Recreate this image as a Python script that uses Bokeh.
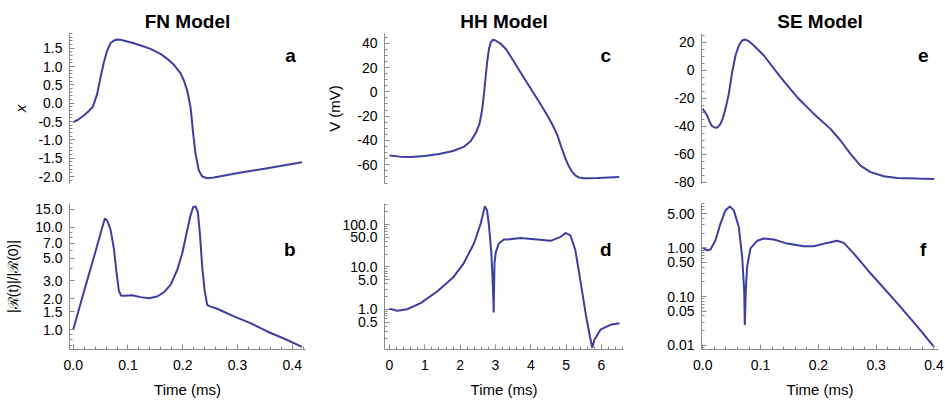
import math
from bokeh.plotting import figure
from bokeh.models import Range1d, FixedTicker, PrintfTickFormatter, Label
from bokeh.layouts import row, column
from bokeh.embed import file_html
from bokeh.resources import INLINE

FONT = "Liberation Sans"
CURVE = "#3e3ea0"
AXIS = "#8a8a8a"

# ---------------- FN model ----------------
fn_t = [0.0, 0.01, 0.02, 0.03, 0.035, 0.0377, 0.0438, 0.0499, 0.056, 0.0621,
        0.0682, 0.0743, 0.0804, 0.0865, 0.1108, 0.126, 0.1412, 0.1595, 0.1717,
        0.1839, 0.196, 0.2021, 0.2082, 0.2143, 0.2192, 0.2234, 0.2295, 0.2356,
        0.2447, 0.2569, 0.2935, 0.3543, 0.418]
fn_x = [-0.52, -0.44, -0.33, -0.19, -0.11, -0.02, 0.255, 0.709, 1.118, 1.436,
        1.636, 1.709, 1.736, 1.727, 1.636, 1.56, 1.482, 1.345, 1.209,
        1.045, 0.818, 0.618, 0.345, -0.109, -0.836, -1.382, -1.836, -2.0,
        -2.045, -2.027, -1.927, -1.773, -1.609]

fn_rt = [0.0, 0.0134, 0.0256, 0.0377, 0.0469, 0.053, 0.0578, 0.0621, 0.0682,
         0.0743, 0.0791, 0.0834, 0.0877, 0.0956, 0.1078, 0.123, 0.1382, 0.1534,
         0.1656, 0.1778, 0.19, 0.1991, 0.2082, 0.2143, 0.2192, 0.2234, 0.2277,
         0.2314, 0.2356, 0.2399, 0.2447, 0.2496, 0.263, 0.2935, 0.3239, 0.3543,
         0.3848, 0.418]
fn_r = [1.0, 1.8, 3.05, 5.1, 7.6, 10.0, 12.2, 11.6, 9.5,
        6.2, 3.6, 2.4, 2.14, 2.14, 2.17, 2.08, 2.03, 2.11,
        2.31, 2.74, 3.83, 5.56, 9.37, 13.1, 15.8, 16.0, 14.1,
        8.7, 4.13, 2.45, 1.75, 1.69, 1.60, 1.35, 1.16, 0.96,
        0.82, 0.68]

# ---------------- HH model ----------------
hh_t = [0.0, 0.3, 0.6, 1.0, 1.4, 1.8, 2.1, 2.3, 2.45, 2.55, 2.62, 2.67, 2.72,
        2.77, 2.82, 2.87, 2.93, 3.0, 3.14, 3.3, 3.52, 3.75, 4.0, 4.25, 4.46,
        4.62, 4.75, 4.87, 4.98, 5.08, 5.17, 5.27, 5.36, 5.5, 5.9, 6.5]
hh_v = [-52.3, -53.3, -53.6, -52.8, -51.2, -48.7, -45.3, -40.5, -33.5, -26.0,
        -15.0, -3.0, 12.0, 26.0, 36.0, 41.0, 42.8, 42.2, 39.7, 35.0, 25.0,
        14.0, 2.5, -9.0, -19.0, -27.5, -35.6, -46.0, -55.0, -61.5, -65.8,
        -69.0, -70.4, -71.0, -70.8, -70.1]

hh_rt = [0.0, 0.22, 0.5, 0.88, 1.35, 1.82, 2.1, 2.39, 2.58, 2.7, 2.76, 2.81,
         2.877, 2.915, 2.94, 2.948, 2.958, 2.972, 3.01, 3.094, 3.236, 3.33,
         3.71, 4.18, 4.56, 4.84, 4.98, 5.12, 5.26, 5.4, 5.55, 5.67, 5.74, 5.8,
         5.97, 6.25, 6.51]
hh_r = [1.03, 0.92, 1.0, 1.40, 2.63, 5.9, 12.2, 35.8, 105.0, 274.0, 217.0, 105.0,
        25.0, 5.9, 1.67, 0.84, 2.88, 12.2, 22.8, 35.8, 44.5, 44.5,
        48.6, 44.5, 41.4, 51.3, 63.7, 56.0, 25.0, 4.9, 0.81, 0.23, 0.123, 0.19,
        0.33, 0.43, 0.47]

# ---------------- SE model ----------------
se_t = [0.0, 0.0075, 0.0121, 0.0162, 0.0219, 0.026, 0.0306, 0.0352, 0.0392,
        0.045, 0.0508, 0.0566, 0.0623, 0.0681, 0.0727, 0.0796, 0.0883, 0.1056,
        0.1344, 0.1633, 0.1922, 0.221, 0.2383, 0.2556, 0.2729, 0.2903, 0.3133,
        0.3364, 0.371, 0.4005]
se_v = [-27.6, -32.4, -37.1, -40.0, -41.2, -40.7, -38.3, -33.6, -27.6,
        -16.9, -1.4, 10.5, 17.6, 21.2, 21.9, 20.7, 17.6, 10.5,
        -5.0, -19.3, -31.2, -41.9, -50.2, -59.7, -68.1, -72.8, -75.7,
        -76.9, -77.3, -77.6]

se_rt = [0.0, 0.0075, 0.0133, 0.0219, 0.0306, 0.0392, 0.0467, 0.0537, 0.0623,
         0.0681, 0.0716, 0.0727, 0.0744, 0.0767, 0.0825, 0.0941, 0.1056, 0.1229,
         0.146, 0.1748, 0.1922, 0.2152, 0.2325, 0.2441, 0.2614, 0.2902, 0.3364,
         0.371, 0.4005]
se_r = [1.0, 0.89, 0.92, 1.43, 3.13, 5.85, 7.06, 5.85, 2.67,
        0.65, 0.136, 0.026, 0.136, 0.41, 0.97, 1.39, 1.55, 1.48,
        1.22, 1.08, 1.08, 1.26, 1.39, 1.26, 0.76, 0.30, 0.073,
        0.0244, 0.0092]

# ---------------- tick positions ----------------
fn_x_ticks = [-2.0, -1.5, -1.0, -0.5, 0.0, 0.5, 1.0, 1.5]
fn_r_ticks = [1.0, 1.5, 2.0, 3.0, 5.0, 7.0, 10.0, 15.0]
hh_v_ticks = [-60, -40, -20, 0, 20, 40]
hh_r_ticks = [0.5, 1.0, 5.0, 10.0, 50.0, 100.0]
se_v_ticks = [-80, -60, -40, -20, 0, 20]
se_r_ticks = [0.01, 0.05, 0.1, 0.5, 1.0, 5.0]
short_time_ticks = [0.0, 0.1, 0.2, 0.3, 0.4]
hh_time_ticks = [0, 1, 2, 3, 4, 5, 6]


def frange(a, b, step):
    out, v = [], a
    while v <= b + 1e-9:
        out.append(round(v, 6))
        v += step
    return out


def log_minors(lo, hi, majors):
    out = []
    e = math.floor(math.log10(lo))
    while 10 ** e <= hi:
        for m in range(1, 10):
            v = m * 10 ** e
            if lo <= v <= hi and not any(abs(v - t) < 1e-9 * max(1, t) for t in majors):
                out.append(v)
        e += 1
    return out


def style_axis(ax, fmt):
    ax.axis_line_color = AXIS
    ax.major_tick_line_color = AXIS
    ax.minor_tick_line_color = AXIS
    ax.major_tick_in = 5
    ax.major_tick_out = 0
    ax.minor_tick_in = 3
    ax.minor_tick_out = 0
    ax.major_label_text_font = FONT
    ax.major_label_text_font_size = "14px"
    ax.major_label_text_color = "black"
    ax.axis_label_text_font = FONT
    ax.axis_label_text_font_size = "15px"
    ax.axis_label_text_font_style = "normal"
    ax.axis_label_text_color = "black"
    ax.formatter = PrintfTickFormatter(format=fmt)


def panel(width, borders, xr, yr, ylog, top, title=None):
    bl, br = borders
    height = 195 if top else 205
    bt, bb = (33, 12) if top else (8, 50)
    p = figure(width=width, height=height,
               x_range=Range1d(*xr), y_range=Range1d(*yr),
               y_axis_type="log" if ylog else "linear",
               x_axis_location=None if top else "below",
               title=title, output_backend="svg", toolbar_location=None,
               min_border_left=bl, min_border_right=br,
               min_border_top=bt, min_border_bottom=bb)
    p.outline_line_color = None
    p.grid.visible = False
    p.background_fill_color = "white"
    p.border_fill_color = "white"
    if title:
        p.title.align = "center"
        p.title.text_font = FONT
        p.title.text_font_size = "19px"
        p.title.text_font_style = "bold"
        p.title.text_color = "black"
        p.title.standoff = 4
    return p


def tag(p, letter, fx, fy, ylog):
    x0, x1 = p.x_range.start, p.x_range.end
    y0, y1 = p.y_range.start, p.y_range.end
    x = x0 + fx * (x1 - x0)
    if ylog:
        y = 10 ** (math.log10(y1) - fy * (math.log10(y1) - math.log10(y0)))
    else:
        y = y1 - fy * (y1 - y0)
    p.add_layout(Label(x=x, y=y, text=letter, text_font=FONT,
                       text_font_size="19px", text_font_style="bold",
                       text_align="center", text_baseline="alphabetic",
                       text_color="black"))


def time_axis(p, ticks, minors, fmt):
    style_axis(p.xaxis[0], fmt)
    p.xaxis.ticker = FixedTicker(ticks=ticks, minor_ticks=minors)
    p.xaxis.major_label_standoff = 10
    p.xaxis.axis_label = "Time (ms)"
    p.xaxis.axis_label_standoff = 8


short_xr = (-0.0068, 0.4243)
hh_xr = (-0.1415, 6.623)
se_xr = (-0.00225, 0.4079)

# ---- column 1: FN ----
pa = panel(320, (69, 15), short_xr, (-2.19, 1.90), False, True, "FN Model")
pa.line(fn_t, fn_x, line_color=CURVE, line_width=2)
style_axis(pa.yaxis[0], "%.1f")
pa.yaxis.ticker = FixedTicker(ticks=fn_x_ticks, minor_ticks=frange(-2.1, 1.9, 0.1))
pa.yaxis.major_label_standoff = 7
pa.yaxis.axis_label = "x"
pa.yaxis.axis_label_text_font_style = "italic"
pa.yaxis.axis_label_standoff = 6
tag(pa, "a", 0.9364, 0.1467, False)

pb = panel(320, (69, 15), short_xr, (0.64, 17.1), True, False)
pb.line(fn_rt, fn_r, line_color=CURVE, line_width=2)
style_axis(pb.yaxis[0], "%.1f")
pb.yaxis.ticker = FixedTicker(ticks=fn_r_ticks,
                              minor_ticks=log_minors(0.64, 17.1, fn_r_ticks))
pb.yaxis.major_label_standoff = 7
pb.yaxis.axis_label = "|ℛ(t)|/|ℛ(0)|"
pb.yaxis.axis_label_text_font_size = "14px"
pb.yaxis.axis_label_standoff = 11
time_axis(pb, short_time_ticks, frange(0.0, 0.42, 0.02), "%.1f")
tag(pb, "b", 0.9335, 0.313, True)

# ---- column 2: HH ----
pc = panel(315, (64, 12), hh_xr, (-75.4, 47.97), False, True, "HH Model")
pc.line(hh_t, hh_v, line_color=CURVE, line_width=2)
style_axis(pc.yaxis[0], "%d")
pc.yaxis.ticker = FixedTicker(ticks=hh_v_ticks, minor_ticks=frange(-75, 45, 5))
pc.yaxis.major_label_standoff = 7
pc.yaxis.axis_label = "V (mV)"
pc.yaxis.axis_label_standoff = 11
tag(pc, "c", 0.926, 0.1467, False)

pd = panel(315, (64, 12), hh_xr, (0.112, 316.0), True, False)
pd.line(hh_rt, hh_r, line_color=CURVE, line_width=2)
style_axis(pd.yaxis[0], "%.1f")
pd.yaxis.ticker = FixedTicker(ticks=hh_r_ticks,
                              minor_ticks=log_minors(0.112, 316.0, hh_r_ticks))
pd.yaxis.major_label_standoff = 7
time_axis(pd, hh_time_ticks, frange(0.0, 6.6, 0.2), "%d")
tag(pd, "d", 0.926, 0.313, True)

# ---- column 3: SE ----
pe = panel(310, (66, 7), se_xr, (-80.9, 26.2), False, True, "SE Model")
pe.line(se_t, se_v, line_color=CURVE, line_width=2)
style_axis(pe.yaxis[0], "%d")
pe.yaxis.ticker = FixedTicker(ticks=se_v_ticks, minor_ticks=frange(-80, 25, 5))
pe.yaxis.major_label_standoff = 7
tag(pe, "e", 0.9354, 0.1467, False)

pf = panel(310, (66, 7), se_xr, (0.0082, 8.1), True, False)
pf.line(se_rt, se_r, line_color=CURVE, line_width=2)
style_axis(pf.yaxis[0], "%.2f")
pf.yaxis.ticker = FixedTicker(ticks=se_r_ticks,
                              minor_ticks=log_minors(0.0082, 8.1, se_r_ticks))
pf.yaxis.major_label_standoff = 7
time_axis(pf, short_time_ticks, frange(0.0, 0.4, 0.02), "%.1f")
tag(pf, "f", 0.9354, 0.313, True)

layout = column(row(pa, pc, pe), row(pb, pd, pf))
open("out.html", "w").write(file_html(layout, INLINE))
